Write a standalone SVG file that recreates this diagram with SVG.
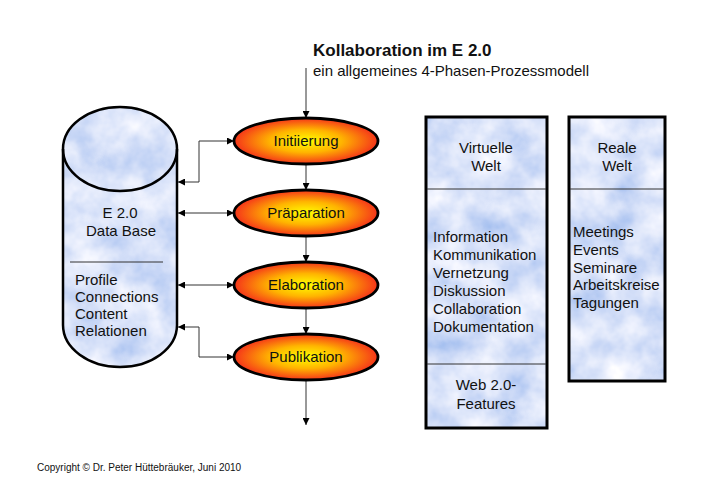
<svg xmlns="http://www.w3.org/2000/svg" width="701" height="490" viewBox="0 0 701 490">
<style>
text{font-family:"Liberation Sans",Arial,sans-serif;font-size:15px;fill:#111}
.c{text-anchor:middle}
.ol{fill:none;stroke:#000;stroke-width:3}
.ph{fill:url(#og);stroke:#000;stroke-width:2.8}
.cn{fill:none;stroke:#333;stroke-width:1}
.div{stroke:#333;stroke-width:1}
</style>
<defs>
<radialGradient id="og" cx="50%" cy="50%" r="50%">
<stop offset="0" stop-color="#ffff00"/>
<stop offset="0.5" stop-color="#ffb400"/>
<stop offset="1" stop-color="#f5341a"/>
</radialGradient>
<filter id="cloud" x="-5%" y="-5%" width="110%" height="110%">
<feTurbulence type="fractalNoise" baseFrequency="0.028" numOctaves="4" seed="7" result="n"/>
<feColorMatrix in="n" type="matrix" values="0.8 0 0 0 0.3  0.6 0 0 0 0.47  0.2 0 0 0 0.85  0 0 0 0 1" result="c"/>
<feComposite in="c" in2="SourceAlpha" operator="in"/>
</filter>
<marker id="ah" viewBox="0 0 10 10" refX="10" refY="5" markerWidth="9" markerHeight="7" markerUnits="userSpaceOnUse" orient="auto-start-reverse">
<path d="M0,0 L10,5 L0,10 Z" fill="#000"/>
</marker>
</defs>

<g id="title">
<text x="313" y="56" style="font-size:17px;font-weight:bold">Kollaboration im E 2.0</text>
<text x="313" y="76">ein allgemeines 4-Phasen-Prozessmodell</text>
</g>

<g id="connectors">
<line class="cn" x1="306" y1="68" x2="306" y2="118" marker-end="url(#ah)"/>
<line class="cn" x1="306" y1="164" x2="306" y2="190" marker-end="url(#ah)"/>
<line class="cn" x1="306" y1="236" x2="306" y2="262" marker-end="url(#ah)"/>
<line class="cn" x1="306" y1="308" x2="306" y2="334" marker-end="url(#ah)"/>
<line class="cn" x1="306" y1="380" x2="306" y2="425" marker-end="url(#ah)"/>
<polyline class="cn" points="178,182 199,182 199,141 234,141" marker-start="url(#ah)" marker-end="url(#ah)"/>
<line class="cn" x1="178" y1="213" x2="234" y2="213" marker-start="url(#ah)" marker-end="url(#ah)"/>
<line class="cn" x1="178" y1="285" x2="234" y2="285" marker-start="url(#ah)" marker-end="url(#ah)"/>
<polyline class="cn" points="178,327 199,327 199,357 234,357" marker-start="url(#ah)" marker-end="url(#ah)"/>
</g>

<g id="database">
<path d="M63,149 L63,325 A57,42 0 0 0 177,325 L177,149 A57,42 0 0 0 63,149 Z" fill="#000" filter="url(#cloud)"/>
<path d="M63,149 L63,325 A57,42 0 0 0 177,325 L177,149" fill="none" stroke="#000" stroke-width="2.5"/>
<ellipse cx="120" cy="149" rx="57" ry="42" fill="none" stroke="#000" stroke-width="2.5"/>
<line class="div" x1="70" y1="262" x2="163" y2="262"/>
<text class="c" x="120" y="218">E 2.0</text>
<text class="c" x="121" y="236">Data Base</text>
<text x="75" y="285">Profile</text>
<text x="75" y="302">Connections</text>
<text x="75" y="319">Content</text>
<text x="75" y="336">Relationen</text>
</g>

<g id="initiierung">
<ellipse class="ph" cx="306" cy="141" rx="72" ry="23"/>
<text class="c" x="306" y="146">Initiierung</text>
</g>
<g id="praeparation">
<ellipse class="ph" cx="306" cy="213" rx="72" ry="23"/>
<text class="c" x="306" y="218">Präparation</text>
</g>
<g id="elaboration">
<ellipse class="ph" cx="306" cy="285" rx="72" ry="23"/>
<text class="c" x="306" y="290">Elaboration</text>
</g>
<g id="publikation">
<ellipse class="ph" cx="306" cy="357" rx="72" ry="23"/>
<text class="c" x="306" y="362">Publikation</text>
</g>

<g id="virtuelle-welt">
<rect x="426" y="117" width="121" height="311" fill="#000" filter="url(#cloud)"/>
<rect class="ol" x="426" y="117" width="121" height="311"/>
<line class="div" x1="427" y1="189" x2="546" y2="189"/>
<line class="div" x1="427" y1="364" x2="546" y2="364"/>
<text class="c" x="486" y="153">Virtuelle</text>
<text class="c" x="486" y="171">Welt</text>
<text x="433" y="242">Information</text>
<text x="433" y="260">Kommunikation</text>
<text x="433" y="278">Vernetzung</text>
<text x="433" y="296">Diskussion</text>
<text x="433" y="314">Collaboration</text>
<text x="433" y="332">Dokumentation</text>
<text class="c" x="486" y="390">Web 2.0-</text>
<text class="c" x="486" y="409">Features</text>
</g>

<g id="reale-welt">
<rect x="569" y="117" width="96" height="264" fill="#000" filter="url(#cloud)"/>
<rect class="ol" x="569" y="117" width="96" height="264"/>
<line class="div" x1="570" y1="189" x2="664" y2="189"/>
<text class="c" x="617" y="153">Reale</text>
<text class="c" x="617" y="171">Welt</text>
<text x="573" y="237">Meetings</text>
<text x="573" y="255">Events</text>
<text x="573" y="273">Seminare</text>
<text x="573" y="290">Arbeitskreise</text>
<text x="573" y="308">Tagungen</text>
</g>

<text x="37" y="471" style="font-size:10px">Copyright © Dr. Peter Hüttebräuker, Juni 2010</text>
</svg>
